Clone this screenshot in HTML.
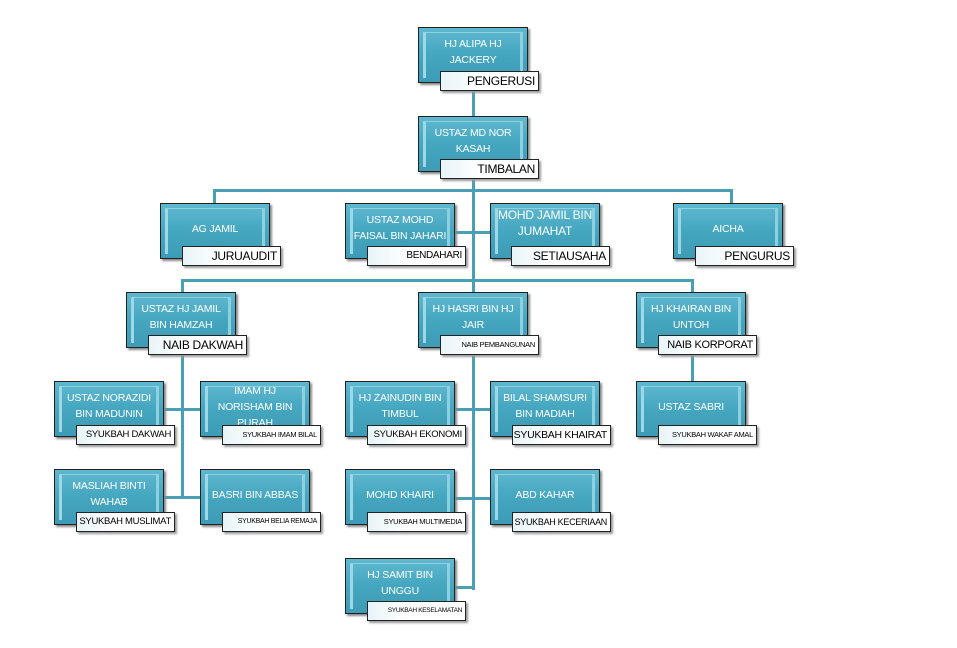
<!DOCTYPE html>
<html><head><meta charset="utf-8"><style>
body{margin:0;width:957px;height:648px;background:#fff;position:relative;overflow:hidden;font-family:"Liberation Sans",sans-serif}
.l{position:absolute;background:#4a9fb5}
.b{position:absolute;width:110px;height:56px;border:1px solid #222;background:linear-gradient(#5fb9d0,#45a6c0 50%,#3d9bb5);box-shadow:2px 2px 2px #888;color:#fff;font-size:10.5px;text-align:center;box-sizing:border-box;padding:8px 4px 0;line-height:16px;letter-spacing:-0.2px}
.b:before{content:"";position:absolute;left:4px;top:4px;right:4px;bottom:4px;border-left:3px solid #9ed8e6;border-right:3px solid #8fd0e0;border-top:1px solid #8fd0e0}
.b span{position:relative}
.t{position:absolute;width:99px;height:20px;border:1px solid #222;background:linear-gradient(90deg,#e8f4f8,#fff 40%);box-shadow:2px 2px 2px #999;box-sizing:border-box;text-align:right;padding-right:3px;line-height:18px;color:#000;white-space:nowrap;overflow:hidden;letter-spacing:-0.3px}
</style></head><body>
<div class="l" style="left:472px;top:82px;width:3px;height:508px"></div>
<div class="l" style="left:213px;top:189px;width:520px;height:3px"></div>
<div class="l" style="left:213px;top:189px;width:3px;height:14px"></div>
<div class="l" style="left:730px;top:189px;width:3px;height:14px"></div>
<div class="l" style="left:452px;top:231px;width:38px;height:3px"></div>
<div class="l" style="left:181px;top:279px;width:513px;height:3px"></div>
<div class="l" style="left:181px;top:279px;width:3px;height:13px"></div>
<div class="l" style="left:691px;top:279px;width:3px;height:102px"></div>
<div class="l" style="left:181px;top:347px;width:3px;height:152px"></div>
<div class="l" style="left:163px;top:408px;width:37px;height:3px"></div>
<div class="l" style="left:163px;top:496px;width:37px;height:3px"></div>
<div class="l" style="left:455px;top:408px;width:35px;height:3px"></div>
<div class="l" style="left:455px;top:497px;width:35px;height:3px"></div>
<div class="l" style="left:455px;top:586px;width:20px;height:3px"></div>

<div class="b" style="left:418px;top:27px"><span>HJ ALIPA HJ<br>JACKERY</span></div>
<div class="t" style="left:440px;top:71px;font-size:12px">PENGERUSI</div>
<div class="b" style="left:418px;top:116px"><span>USTAZ MD NOR<br>KASAH</span></div>
<div class="t" style="left:440px;top:159px;font-size:12px">TIMBALAN</div>

<div class="b" style="left:160px;top:203px;padding-top:17px"><span>AG JAMIL</span></div>
<div class="t" style="left:182px;top:246px;font-size:12px">JURUAUDIT</div>
<div class="b" style="left:345px;top:203px"><span>USTAZ MOHD<br>FAISAL BIN JAHARI</span></div>
<div class="t" style="left:367px;top:246px;font-size:10px">BENDAHARI</div>
<div class="b" style="left:490px;top:203px;font-size:12px;padding:3px 2px 0"><span>MOHD JAMIL BIN<br>JUMAHAT</span></div>
<div class="t" style="left:511px;top:246px;font-size:12px">SETIAUSAHA</div>
<div class="b" style="left:673px;top:203px;padding-top:17px"><span>AICHA</span></div>
<div class="t" style="left:695px;top:246px;font-size:12px">PENGURUS</div>

<div class="b" style="left:126px;top:292px"><span>USTAZ HJ JAMIL<br>BIN HAMZAH</span></div>
<div class="t" style="left:148px;top:335px;font-size:12px">NAIB DAKWAH</div>
<div class="b" style="left:418px;top:292px"><span>HJ HASRI BIN HJ<br>JAIR</span></div>
<div class="t" style="left:440px;top:335px;font-size:7.5px">NAIB PEMBANGUNAN</div>
<div class="b" style="left:636px;top:292px"><span>HJ KHAIRAN BIN<br>UNTOH</span></div>
<div class="t" style="left:658px;top:335px;font-size:11px">NAIB KORPORAT</div>

<div class="b" style="left:54px;top:381px"><span>USTAZ NORAZIDI<br>BIN MADUNIN</span></div>
<div class="t" style="left:76px;top:425px;font-size:9.5px">SYUKBAH DAKWAH</div>
<div class="b" style="left:200px;top:381px;padding-top:1px"><span>IMAM HJ<br>NORISHAM BIN<br>PURAH</span></div>
<div class="t" style="left:222px;top:425px;font-size:7.5px">SYUKBAH IMAM BILAL</div>
<div class="b" style="left:54px;top:469px"><span>MASLIAH BINTI<br>WAHAB</span></div>
<div class="t" style="left:76px;top:512px;font-size:9.5px">SYUKBAH MUSLIMAT</div>
<div class="b" style="left:200px;top:469px;padding-top:17px"><span>BASRI BIN ABBAS</span></div>
<div class="t" style="left:222px;top:512px;font-size:7px">SYUKBAH BELIA REMAJA</div>

<div class="b" style="left:345px;top:381px"><span>HJ ZAINUDIN BIN<br>TIMBUL</span></div>
<div class="t" style="left:367px;top:425px;font-size:9.5px">SYUKBAH EKONOMI</div>
<div class="b" style="left:490px;top:381px"><span>BILAL SHAMSURI<br>BIN MADIAH</span></div>
<div class="t" style="left:512px;top:425px;font-size:10.5px">SYUKBAH KHAIRAT</div>
<div class="b" style="left:345px;top:469px;padding-top:17px"><span>MOHD KHAIRI</span></div>
<div class="t" style="left:367px;top:512px;font-size:7.5px">SYUKBAH MULTIMEDIA</div>
<div class="b" style="left:490px;top:469px;padding-top:17px"><span>ABD KAHAR</span></div>
<div class="t" style="left:512px;top:512px;font-size:9px">SYUKBAH KECERIAAN</div>
<div class="b" style="left:345px;top:558px"><span>HJ SAMIT BIN<br>UNGGU</span></div>
<div class="t" style="left:367px;top:601px;font-size:6.5px">SYUKBAH KESELAMATAN</div>

<div class="b" style="left:636px;top:381px;padding-top:17px"><span>USTAZ SABRI</span></div>
<div class="t" style="left:658px;top:425px;font-size:7.5px">SYUKBAH WAKAF AMAL</div>
</body></html>
